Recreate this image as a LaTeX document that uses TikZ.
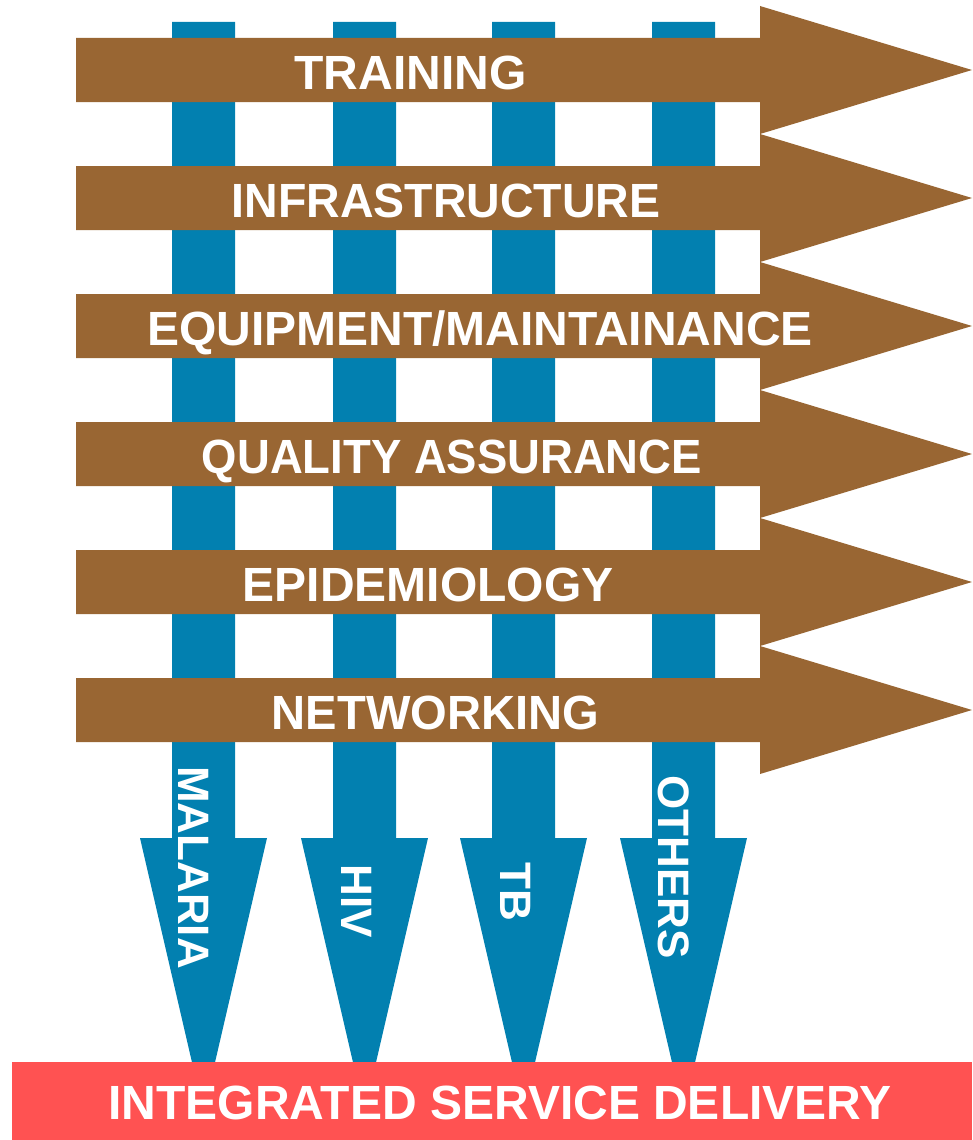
\documentclass[tikz,border=0pt]{standalone}
\usepackage{fontspec}
\usepackage{graphicx}
\setmainfont{Liberation Sans}
\definecolor{brn}{RGB}{153,102,51}
\definecolor{blu}{RGB}{2,128,176}
\definecolor{redbar}{RGB}{255,82,82}
\begin{document}
\begin{tikzpicture}[x=1pt,y=-1pt,
  hlbl/.style={text=white,font=\bfseries\fontsize{48}{48}\selectfont,inner sep=0pt,anchor=base},
  vlbl/.style={text=white,font=\bfseries\fontsize{44}{44}\selectfont,inner sep=0pt,rotate=-90,anchor=center},
  bluearrow/.style={fill=blu,draw=none},
  brownarrow/.style={fill=brn,draw=none},
  barbox/.style={fill=redbar,draw=none}]
\useasboundingbox (0,0) rectangle (972,1140);
% vertical blue arrows
\foreach \c in {203.5,364.5,523.5,683.5}
  \path[bluearrow] (\c-31.5,22) -- (\c+31.5,22) -- (\c+31.5,838) -- (\c+63.5,838)
    -- (\c,1112) -- (\c-63.5,838) -- (\c-31.5,838) -- cycle;
% horizontal brown arrows
\foreach \yc in {70,198,326,454,582,710}
  \path[brownarrow] (76,\yc-32) -- (760,\yc-32) -- (760,\yc-64) -- (972,\yc)
    -- (760,\yc+64) -- (760,\yc+32) -- (76,\yc+32) -- cycle;
% labels on brown arrows
\node[hlbl] (training) at (410.5,89) {TRAINING};
\node[hlbl] (infra) at (446,217) {\scalebox{0.968}[1]{INFRASTRUCTURE}};
\node[hlbl] (equip) at (480,345) {EQUIPMENT/MAINTAINANCE};
\node[hlbl] (qa) at (452,473) {\scalebox{0.947}[1]{QUALITY ASSURANCE}};
\node[hlbl] (epi) at (428,601) {EPIDEMIOLOGY};
\node[hlbl] (net) at (435.5,729) {\scalebox{0.982}[1]{NETWORKING}};
% labels on blue arrows
\node[vlbl] (malaria) at (194,867.5) {MALARIA};
\node[vlbl] (hiv) at (357,901) {HIV};
\node[vlbl] (tb) at (515.5,892) {TB};
\node[vlbl] (others) at (674,867) {OTHERS};
% bottom bar
\path[barbox] (12,1062) rectangle (972,1140);
\node[hlbl] (isd) at (500,1119) {INTEGRATED SERVICE DELIVERY};
\end{tikzpicture}
\end{document}
